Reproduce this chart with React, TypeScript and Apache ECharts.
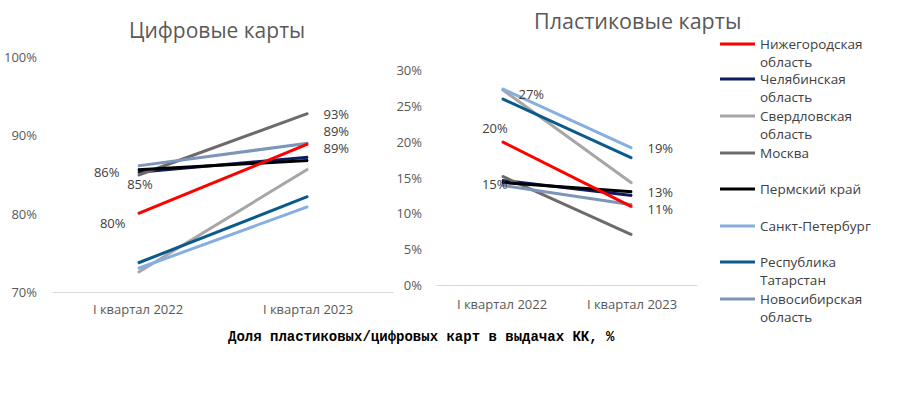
import React, { useEffect, useRef } from "react";
import * as echarts from "echarts";

const categories = ["I квартал 2022", "I квартал 2023"];
const regions = [
  "Нижегородская область",
  "Челябинская область",
  "Свердловская область",
  "Москва",
  "Пермский край",
  "Санкт-Петербург",
  "Республика Татарстан",
  "Новосибирская область",
];
const colors = ["#ff0000", "#0e1b5e", "#a6a6a6", "#6e6a6c", "#000000", "#87aee0", "#0a5a8c", "#7b96b8"];

// Цифровые карты, %
const digitalNizhny = [80.0, 88.9];
const digitalChelyabinsk = [85.3, 87.2];
const digitalSverdlovsk = [72.5, 85.7];
const digitalMoscow = [84.9, 92.8];
const digitalPerm = [85.6, 86.8];
const digitalSpb = [73.0, 80.9];
const digitalTatarstan = [73.7, 82.2];
const digitalNovosibirsk = [86.1, 89.0];

// Пластиковые карты, %
const plasticNizhny = [20.0, 10.9];
const plasticChelyabinsk = [14.6, 12.5];
const plasticSverdlovsk = [27.3, 14.2];
const plasticMoscow = [15.2, 7.0];
const plasticPerm = [14.3, 13.0];
const plasticSpb = [27.4, 19.1];
const plasticTatarstan = [26.0, 17.7];
const plasticNovosibirsk = [13.9, 11.2];

const digitalTicks = [70, 80, 90, 100];
const plasticTicks = [0, 5, 10, 15, 20, 25, 30];

const digitalData = [
  digitalNizhny, digitalChelyabinsk, digitalSverdlovsk, digitalMoscow,
  digitalPerm, digitalSpb, digitalTatarstan, digitalNovosibirsk,
];
const plasticData = [
  plasticNizhny, plasticChelyabinsk, plasticSverdlovsk, plasticMoscow,
  plasticPerm, plasticSpb, plasticTatarstan, plasticNovosibirsk,
];

const FONT = "Open Sans";
const labelColor = "#404040";

// label settings per [seriesIndex][pointIndex]
const digitalLabels: Record<string, any> = {
  "0-0": { position: "left", distance: 12, offset: [0, 9] },
  "0-1": { position: "right", distance: 15, offset: [0, 4] },
  "3-0": { position: "bottom", distance: 1, offset: [2, 0] },
  "3-1": { position: "right", distance: 15, offset: [0, 1] },
  "7-0": { position: "left", distance: 18, offset: [0, 6] },
  "7-1": { position: "right", distance: 15, offset: [0, -12] },
};
const plasticLabels: Record<string, any> = {
  "0-0": { position: "top", distance: 6, offset: [-7, 0] },
  "0-1": { position: "right", distance: 15, offset: [0, 2] },
  "1-0": { position: "left", distance: -6, offset: [0, 4] },
  "4-1": { position: "right", distance: 15, offset: [0, 0] },
  "5-0": { position: "right", distance: 16, offset: [0, 5] },
  "5-1": { position: "right", distance: 15, offset: [0, 0] },
};

function buildSeries(data: number[][], labels: Record<string, any>, axisIndex: number) {
  return data.map((vals, si) => ({
    name: regions[si],
    type: "line",
    xAxisIndex: axisIndex,
    yAxisIndex: axisIndex,
    symbol: "circle",
    symbolSize: 1,
    showSymbol: true,
    lineStyle: { width: 3, color: colors[si] },
    itemStyle: { color: colors[si] },
    z: si === 0 ? 5 : 3,
    data: vals.map((v, pi) => {
      const l = labels[`${si}-${pi}`];
      return {
        value: v,
        label: l
          ? {
              show: true,
              formatter: () => `${Math.round(v)}%`,
              color: labelColor,
              fontFamily: FONT,
              fontSize: 13,
              lineHeight: 14,
              ...l,
            }
          : { show: false },
      };
    }),
  }));
}

const legendY = [44, 79, 116, 153, 189, 226, 262, 299];
const LEGEND_LEFT = 720;
const ICON_W = 35;
const LINE_STEP = 19;
const LH = 16;

export default function App() {
  const ref = useRef<HTMLDivElement>(null);
  useEffect(() => {
    if (!ref.current) return;
    const chart = echarts.init(ref.current, undefined, { renderer: "svg" });
    const axisLabel = { color: "#595959", fontFamily: FONT, fontSize: 13 };
    const legendText = { color: "#404040", fontFamily: FONT, fontSize: 13.5, lineHeight: LH };
    const splitName = (name: string) => {
      const parts = name.split(" ");
      return parts.length > 1 && name !== "Пермский край"
        ? [parts.slice(0, -1).join(" "), parts[parts.length - 1]]
        : [name];
    };
    const legends = regions.map((name, i) => ({
      data: [name],
      left: LEGEND_LEFT,
      top: legendY[i] - LH / 2,
      padding: 0,
      icon: "rect",
      itemWidth: ICON_W,
      itemHeight: 3,
      itemGap: 0,
      selectedMode: false,
      formatter: () => splitName(name)[0],
      textStyle: legendText,
    }));
    const secondLines = regions
      .map((name, i) => ({ lines: splitName(name), i }))
      .filter((d) => d.lines.length > 1)
      .map((d) => ({
        type: "text",
        left: LEGEND_LEFT + ICON_W + 5,
        top: legendY[d.i] + LINE_STEP - LH / 2 - 1.5,
        style: {
          text: d.lines[1],
          fill: legendText.color,
          fontFamily: FONT,
          fontSize: legendText.fontSize,
          lineHeight: LH,
        },
      }));
    chart.setOption({
      animation: false,
      backgroundColor: "#ffffff",
      title: [
        {
          text: "Цифровые карты",
          left: 129,
          top: 19,
          padding: 0,
          textStyle: { color: "#595959", fontFamily: FONT, fontSize: 21, fontWeight: "normal" },
        },
        {
          text: "Пластиковые карты",
          left: 534,
          top: 9,
          padding: 0,
          textStyle: { color: "#595959", fontFamily: FONT, fontSize: 21.5, fontWeight: "normal" },
        },
        {
          text: "Доля пластиковых/цифровых карт в выдачах КК, %",
          left: 228,
          top: 330,
          padding: 0,
          textStyle: { color: "#000000", fontFamily: "Liberation Mono", fontSize: 14, fontWeight: "bold" },
        },
      ],
      legend: legends,
      graphic: secondLines,
      grid: [
        { left: 53, right: 507, top: 57, bottom: 105 },
        { left: 437, right: 203, top: 70, bottom: 112 },
      ],
      xAxis: [0, 1].map((i) => ({
        type: "category",
        gridIndex: i,
        data: categories,
        boundaryGap: true,
        axisLine: { lineStyle: { color: "#d9d9d9", width: 1 } },
        axisTick: { show: false },
        axisLabel: { ...axisLabel, margin: i === 0 ? 10 : 12 },
      })),
      yAxis: [
        {
          type: "value",
          gridIndex: 0,
          min: digitalTicks[0],
          max: digitalTicks[digitalTicks.length - 1],
          interval: 10,
          splitLine: { show: false },
          axisLine: { show: false },
          axisTick: { show: false },
          axisLabel: { ...axisLabel, margin: 16, formatter: "{value}%" },
        },
        {
          type: "value",
          gridIndex: 1,
          min: plasticTicks[0],
          max: plasticTicks[plasticTicks.length - 1],
          interval: 5,
          splitLine: { show: false },
          axisLine: { show: false },
          axisTick: { show: false },
          axisLabel: { ...axisLabel, margin: 15, formatter: "{value}%" },
        },
      ],
      series: [
        ...buildSeries(digitalData, digitalLabels, 0),
        ...buildSeries(plasticData, plasticLabels, 1),
      ],
    });
    return () => chart.dispose();
  }, []);
  return (
    <div
      ref={ref}
      style={{ position: "fixed", left: 0, top: 0, width: 900, height: 397, background: "#fff" }}
    />
  );
}
